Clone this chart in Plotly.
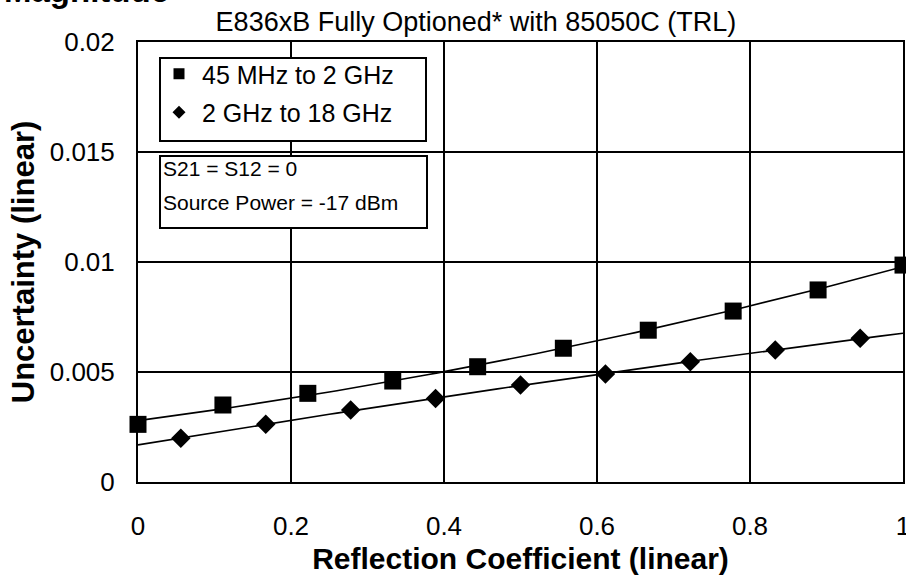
import numpy as np
import plotly.graph_objects as go

# Reflection coefficient sample points and measured uncertainty (linear)
low_band_name = "45 MHz to 2 GHz"
low_band_x = [0.0, 0.111, 0.222, 0.333, 0.444, 0.556, 0.667, 0.778, 0.889, 1.0]
low_band_y = [0.00262, 0.0035, 0.00403, 0.00459, 0.00524, 0.00608, 0.0069, 0.00777, 0.00873, 0.00986]

high_band_name = "2 GHz to 18 GHz"
high_band_x = [0.056, 0.167, 0.278, 0.389, 0.5, 0.611, 0.722, 0.833, 0.944]
high_band_y = [0.00199, 0.00262, 0.00327, 0.0038, 0.00441, 0.00491, 0.00547, 0.006, 0.00653]

x_ticks = [0, 0.2, 0.4, 0.6, 0.8, 1]
x_tick_labels = ["0", "0.2", "0.4", "0.6", "0.8", "1"]
y_ticks = [0, 0.005, 0.01, 0.015, 0.02]
y_tick_labels = ["0", "0.005", "0.01", "0.015", "0.02"]

title_text = "E836xB Fully Optioned* with 85050C (TRL)"
note_lines = ["S21 = S12 = 0", "Source Power = -17 dBm"]

FONT = "Liberation Sans, Arial, sans-serif"
W, H = 906, 585
L, R, T, B = 138, 3, 42, 103
PW, PH = W - L - R, H - T - B


def px_x(px):
    return (px - L) / PW


def px_y(py):
    return (H - B - py) / PH


def trend(xs, ys):
    # second-order trendline through the measured points
    coef = np.polyfit(xs, ys, 2)
    xx = np.linspace(0, 1, 101)
    return xx, np.polyval(coef, xx)


fig = go.Figure()

for xs, ys, sym, size in [
    (low_band_x, low_band_y, "square", 17),
    (high_band_x, high_band_y, "diamond", 15),
]:
    tx, ty = trend(xs, ys)
    fig.add_trace(go.Scatter(x=tx, y=ty, mode="lines", showlegend=False,
                             line=dict(color="black", width=1.6),
                             hoverinfo="skip", cliponaxis=False))
    fig.add_trace(go.Scatter(x=xs, y=ys, mode="markers", showlegend=False,
                             marker=dict(symbol=sym, size=size, color="black"),
                             cliponaxis=False))

# legend entries
fig.add_trace(go.Scatter(x=[None], y=[None], mode="markers", name=low_band_name,
                         legendgroup="a",
                         marker=dict(symbol="square", size=11, color="black")))
fig.add_trace(go.Scatter(x=[None], y=[None], mode="markers", name=high_band_name,
                         legendgroup="b",
                         marker=dict(symbol="diamond", size=10, color="black")))

# white framed boxes behind the legend and the measurement note
for (bx0, bx1, by0, by1) in [(160, 426, 58, 141), (160, 427, 156, 228)]:
    fig.add_shape(type="rect", xref="paper", yref="paper",
                  x0=px_x(bx0), x1=px_x(bx1), y0=px_y(by1), y1=px_y(by0),
                  line=dict(color="black", width=2), fillcolor="white", layer="above")

for text, py in zip(note_lines, [168, 202]):
    fig.add_annotation(text=text, xref="paper", yref="paper",
                       x=px_x(161), y=px_y(py), xanchor="left", yanchor="middle",
                       showarrow=False, font=dict(family=FONT, size=21, color="black"))

fig.add_annotation(text="<b>Magnitude</b>", xref="paper", yref="paper",
                   x=px_x(2), y=px_y(-9), xanchor="left", yanchor="middle",
                   showarrow=False, font=dict(family=FONT, size=33, color="black"))

axis_common = dict(showgrid=True, gridcolor="black", gridwidth=2,
                   showline=True, linecolor="black", linewidth=2, mirror=True,
                   zeroline=False, ticks="", ticklabeloverflow="allow",
                   tickfont=dict(family=FONT, size=26, color="black"))

fig.update_xaxes(range=[0, 1], tickvals=x_ticks, ticktext=x_tick_labels,
                 ticklabelstandoff=20,
                 title=dict(text="<b>Reflection Coefficient (linear)</b>",
                            font=dict(family=FONT, size=30, color="black"), standoff=8),
                 **axis_common)
fig.update_yaxes(range=[0, 0.02], tickvals=y_ticks, ticktext=y_tick_labels,
                 ticklabelstandoff=16,
                 title=dict(text="<b>Uncertainty (linear)</b>",
                            font=dict(family=FONT, size=31, color="black"), standoff=6),
                 **axis_common)

fig.update_layout(
    width=W, height=H,
    margin=dict(l=L, r=R, t=T, b=B, autoexpand=False),
    paper_bgcolor="white", plot_bgcolor="white",
    font=dict(family=FONT, color="black"),
    title=dict(text=title_text, font=dict(family=FONT, size=27, color="black"),
               xref="container", yref="container", x=476 / W, y=1 - 22 / H,
               xanchor="center", yanchor="middle"),
    showlegend=True,
    legend=dict(x=px_x(156), y=px_y(51), xanchor="left", yanchor="top",
                bgcolor="rgba(0,0,0,0)", borderwidth=0,
                font=dict(family=FONT, size=25, color="black"),
                traceorder="grouped", tracegroupgap=3,
                itemwidth=36),
)

fig.write_html("out.html")
